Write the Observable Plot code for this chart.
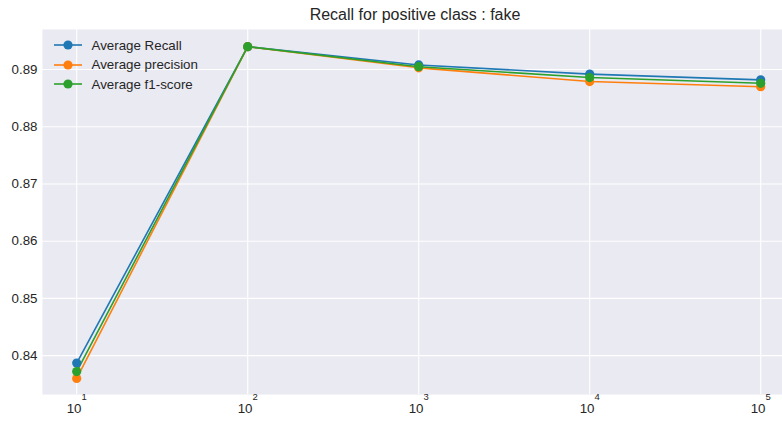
<!DOCTYPE html>
<html>
<head>
<meta charset="utf-8">
<script src="https://cdn.jsdelivr.net/npm/d3@7"></script>
<script src="https://cdn.jsdelivr.net/npm/@observablehq/plot@0.6"></script>
<style>
  body { margin: 0; background: #fff; font-family: "Liberation Sans", Arial, sans-serif; }
  #wrap { position: relative; width: 782px; height: 421px; overflow: hidden; }
  #title { position: absolute; top: 4px; left: 42px; width: 746px; height: 22px; line-height: 22px; font-size: 16px; color: #262626; text-align: center; white-space: nowrap; }
  #legend { position: absolute; left: 54px; top: 35.5px; font-size: 13.33px; color: #262626; }
  .row { display: flex; align-items: center; height: 19.5px; }
  .row svg { margin-right: 9.5px; }
</style>
</head>
<body>
<div id="wrap">
  <div id="chart"></div>
  <div id="title">Recall for positive class : fake</div>
  <div id="legend"></div>
</div>
<script>
const sizes = [10, 100, 1000, 10000, 100000];
const seriesNames = ["Average Recall", "Average precision", "Average f1-score"];
const colors = ["#1f77b4", "#ff7f0e", "#2ca02c"];
const recall = [0.8387, 0.8940, 0.8908, 0.8892, 0.8882];
const precision = [0.8360, 0.8940, 0.8903, 0.8879, 0.8870];
const f1 = [0.8372, 0.8940, 0.8905, 0.8886, 0.8876];
const yTicks = [0.84, 0.85, 0.86, 0.87, 0.88, 0.89];
const xTicks = [10, 100, 1000, 10000, 100000];
const xTickExponents = ["1", "2", "3", "4", "5"];

const allSeries = [recall, precision, f1];
const data = [];
allSeries.forEach((vals, i) => vals.forEach((v, j) => data.push({series: seriesNames[i], x: sizes[j], y: v})));

const chart = Plot.plot({
  width: 782,
  height: 421,
  marginTop: 29,
  marginBottom: 27,
  marginLeft: 42,
  marginRight: 0,
  style: { fontFamily: "'Liberation Sans', Arial, sans-serif", fontSize: "13.33px", color: "#262626", background: "transparent" },
  x: { type: "log", domain: [Math.pow(10, 0.8), Math.pow(10, 0.8 + 740 / 171)] },
  y: { domain: [0.8332, 0.8970] },
  color: { domain: seriesNames, range: colors },
  marks: [
    Plot.frame({ fill: "#EAEAF2", stroke: null }),
    Plot.gridX(xTicks, { stroke: "#fff", strokeOpacity: 1, strokeWidth: 1.1 }),
    Plot.gridY(yTicks, { stroke: "#fff", strokeOpacity: 1, strokeWidth: 1.1 }),
    Plot.axisX(xTicks, { tickSize: 0, tickPadding: 9, tickFormat: d => "10^" + xTickExponents[xTicks.indexOf(d)], label: null, fontSize: 13.33 }),
    Plot.axisY(yTicks, { tickSize: 0, tickPadding: 5, tickFormat: d => d.toFixed(2), label: null, fontSize: 13.33 }),
    Plot.line(data, { x: "x", y: "y", z: "series", stroke: "series", strokeWidth: 1.6 }),
    Plot.dot(data, { x: "x", y: "y", fill: "series", r: 4.6, stroke: null })
  ]
});
// render "10^n" tick labels with a raised superscript, like matplotlib mathtext
d3.select(chart).selectAll("text").each(function() {
  const t = this.textContent;
  const m = /^10\^(\d)$/.exec(t);
  if (m) {
    const sel = d3.select(this);
    sel.text("");
    sel.append("tspan").text("10");
    sel.append("tspan").attr("dy", -12.5).attr("font-size", 9.5).text(m[1]);
  }
});
document.getElementById("chart").appendChild(chart);

const legend = document.getElementById("legend");
seriesNames.forEach((name, i) => {
  const row = document.createElement("div");
  row.className = "row";
  row.innerHTML = `<svg width="28" height="12"><line x1="0" y1="6" x2="28" y2="6" stroke="${colors[i]}" stroke-width="1.6"/><circle cx="14" cy="6" r="4.6" fill="${colors[i]}"/></svg><span>${name}</span>`;
  legend.appendChild(row);
});
</script>
</body>
</html>
